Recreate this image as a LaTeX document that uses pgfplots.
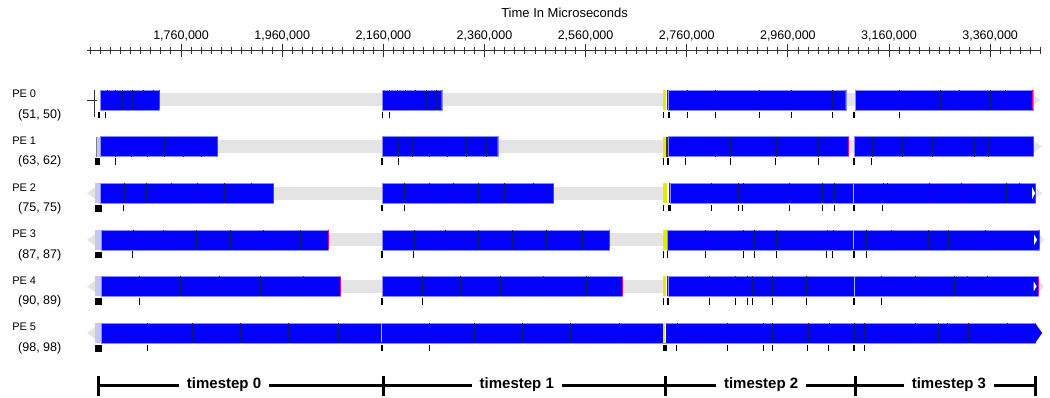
\documentclass[border=0pt]{standalone}
\usepackage{pgfplots}
\pgfplotsset{compat=1.18}
\usepackage{fontspec}
\setmainfont{Liberation Sans}
\definecolor{barblue}{RGB}{2,2,252}
\definecolor{baredge}{RGB}{140,140,255}
\definecolor{evline}{RGB}{20,20,110}
\definecolor{idlegray}{RGB}{228,228,228}
\definecolor{idlelight}{RGB}{246,246,246}
\definecolor{lav}{RGB}{198,198,245}
\definecolor{ylw}{RGB}{225,238,0}
\definecolor{axgray}{RGB}{50,50,50}
\definecolor{lightln}{RGB}{175,175,255}
\definecolor{olive}{RGB}{60,60,0}
\newcommand{\Blk}[4]{\addplot[fill=barblue, draw=baredge, line width=0.5pt] coordinates {(#1,#3) (#2,#3) (#2,#4) (#1,#4)} -- cycle;}
\newcommand{\Idle}[4]{\addplot[draw=none, left color=idlegray, middle color=idlelight, right color=idlegray] coordinates {(#1,#3) (#2,#3) (#2,#4) (#1,#4)} -- cycle;}
\newcommand{\Lav}[4]{\addplot[fill=lav, draw=none] coordinates {(#1,#3) (#2,#3) (#2,#4) (#1,#4)} -- cycle;}
\newcommand{\Ylw}[4]{\addplot[fill=ylw, draw=none] coordinates {(#1,#3) (#2,#3) (#2,#4) (#1,#4)} -- cycle;}
% triangle: base x, tip x, top y, mid y, bottom y, colour
\newcommand{\Tri}[6]{\addplot[fill=#6, draw=none] coordinates {(#1,#3) (#2,#4) (#1,#5)} -- cycle;}
\pgfplotsset{
  evl/.style={only marks, mark=|, mark size=10pt, mark options={draw=evline, line width=0.6pt}},
  dkl/.style={only marks, mark=|, mark size=10pt, mark options={draw=olive, line width=1.3pt}},
  lgl/.style={only marks, mark=|, mark size=9.5pt, mark options={draw=lightln, line width=1pt}},
  wtl/.style={only marks, mark=|, mark size=9pt, mark options={draw=white, line width=0.8pt}},
  mgl/.style={only marks, mark=|, mark size=9.5pt, mark options={draw=magenta, line width=0.9pt}},
  tk/.style={only marks, mark=|, mark size=3.3pt, mark options={draw=black, line width=0.8pt}},
  tkb/.style={only marks, mark=|, mark size=3.3pt, mark options={draw=black, line width=2.2pt}},
  sq/.style={only marks, mark=square*, mark size=2.8pt, mark options={fill=black, draw=black}},
}
\begin{document}
\begin{tikzpicture}
\begin{axis}[name=ax, scale only axis, width=953.7pt, height=345.3pt,
  xmin=1574000, xmax=3460000, ymin=-396, ymax=-50.7,
  axis x line*=top, axis y line=none,
  scaled x ticks=false,
  xtick={1760000,1960000,2160000,2360000,2560000,2760000,2960000,3160000,3360000},
  xticklabels={{1,760,000},{1,960,000},{2,160,000},{2,360,000},{2,560,000},{2,760,000},{2,960,000},{3,160,000},{3,360,000}},
  minor xtick={1580000,1600000,...,3460000},
  tick align=center, major tick length=13pt, minor tick length=6.5pt,
  every tick/.style={axgray, line width=0.9pt},
  axis line style={axgray, line width=0.9pt},
  xticklabel style={font=\fontsize{12.5}{14}\selectfont, text=black},
  clip=false]

% ---------------- PE 0 ----------------
\Idle{1717100}{2158100}{-94}{-106}
\Idle{2275600}{2713300}{-94}{-106}
\Idle{3074600}{3093000}{-94}{-106}
\Tri{3444400}{3458900}{-94}{-100}{-106}{idlegray}
\Blk{1599800}{1717100}{-90}{-110}
\Blk{2158100}{2275600}{-90}{-110}
\Blk{2724200}{3074600}{-90}{-110}
\Blk{3093000}{3444400}{-90}{-110}
\Ylw{2713300}{2719200}{-90}{-110}
\addplot[axgray, line width=0.8pt] coordinates {(1574100,-100) (1593900,-100)};
\addplot[axgray, line width=0.8pt] coordinates {(1588000,-90) (1588000,-117)};
\addplot[dkl] coordinates {(2722200,-100)};
\addplot[evl] coordinates {(1615000,-100) (1629500,-100) (1644700,-100) (1664500,-100) (1685400,-100) (1705200,-100)
  (2172000,-100) (2187800,-100) (2203000,-100) (2222800,-100) (2244500,-100) (2265700,-100)
  (2760700,-100) (2816100,-100) (2903100,-100) (2966400,-100) (3048100,-100)
  (3180000,-100) (3261100,-100) (3299300,-100) (3360000,-100) (3389700,-100)};
\addplot[mgl] coordinates {(1717100,-100) (2275600,-100) (3074600,-100) (3444400,-100)};
\addplot[tk] coordinates {(1609700,-115) (2158100,-115) (2172000,-115) (2713300,-115) (2760700,-115) (2816100,-115) (2903100,-115) (2966400,-115) (3048100,-115) (3180000,-115)};
\addplot[tkb] coordinates {(1597400,-115) (2725200,-115) (3091000,-115)};

% ---------------- PE 1 ----------------
\Idle{1831200}{2158100}{-140.6}{-152.6}
\Idle{2386400}{2713900}{-140.6}{-152.6}
\Idle{3079200}{3092000}{-140.6}{-152.6}
\Tri{3445600}{3462800}{-140.6}{-146.6}{-152.6}{idlegray}
\Lav{1593900}{1599800}{-136.6}{-156.6}
\Blk{1599800}{1831200}{-136.6}{-156.6}
\Blk{2158100}{2386400}{-136.6}{-156.6}
\Blk{2723200}{3079200}{-136.6}{-156.6}
\Blk{3092000}{3445600}{-136.6}{-156.6}
\Ylw{2713900}{2720600}{-136.6}{-156.6}
\addplot[only marks, mark=|, mark size=10pt, mark options={draw=gray, line width=1pt}] coordinates {(1592900,-146.6)};
\addplot[dkl] coordinates {(2721200,-146.6)};
\addplot[evl] coordinates {(1629500,-146.6) (1661100,-146.6) (1693400,-146.6) (1727000,-146.6) (1764500,-146.6) (1800900,-146.6)
  (2189800,-146.6) (2218200,-146.6) (2250500,-146.6) (2286700,-146.6) (2323700,-146.6) (2363200,-146.6)
  (2756800,-146.6) (2816100,-146.6) (2845800,-146.6) (2936200,-146.6) (3020400,-146.6)
  (3126000,-146.6) (3185400,-146.6) (3244700,-146.6) (3328900,-146.6) (3356600,-146.6)};
\addplot[mgl] coordinates {(1831200,-146.6) (2386400,-146.6) (3079200,-146.6) (3445600,-146.6)};
\addplot[tk] coordinates {(1630900,-161.6) (2189800,-161.6) (2713300,-161.6) (2756800,-161.6) (2845800,-161.6) (2936200,-161.6) (3020400,-161.6) (3126000,-161.6)};
\addplot[tkb] coordinates {(1592900,-161.6) (1597800,-161.6) (2158100,-161.6) (2722600,-161.6) (3091000,-161.6)};

% ---------------- PE 2 ----------------
\Tri{1589900}{1574100}{-187.2}{-193.2}{-199.2}{idlegray}
\Idle{1942500}{2158100}{-187.2}{-199.2}
\Idle{2496300}{2713900}{-187.2}{-199.2}
\Tri{3449000}{3462800}{-187.2}{-193.2}{-199.2}{idlegray}
\Lav{1589900}{1599800}{-183.2}{-203.2}
\Blk{1599800}{1942500}{-183.2}{-203.2}
\Blk{2158100}{2496300}{-183.2}{-203.2}
\Blk{2727100}{3449000}{-183.2}{-203.2}
\Ylw{2713900}{2721200}{-183.2}{-203.2}
\Tri{3443000}{3449000}{-187.2}{-193.2}{-199.2}{white}
\addplot[dkl] coordinates {(2726100,-193.2)};
\addplot[lgl] coordinates {(3089600,-193.2)};
\addplot[evl] coordinates {(1647300,-193.2) (1692200,-193.2) (1741600,-193.2) (1792200,-193.2) (1845000,-193.2) (1899800,-193.2)
  (2201000,-193.2) (2250500,-193.2) (2297400,-193.2) (2348000,-193.2) (2399400,-193.2) (2455600,-193.2)
  (2808200,-193.2) (2862200,-193.2) (2870900,-193.2) (2962500,-193.2) (3028300,-193.2) (3052100,-193.2)
  (3147800,-193.2) (3155700,-193.2) (3239400,-193.2) (3302600,-193.2) (3391600,-193.2) (3417900,-193.2)};
\addplot[mgl] coordinates {(1942500,-193.2) (2496300,-193.2) (3449000,-193.2)};
\addplot[sq] coordinates {(1595800,-208.2)};
\addplot[tk] coordinates {(1646700,-208.2) (2202400,-208.2) (2713900,-208.2) (2808200,-208.2) (2862200,-208.2) (2870900,-208.2) (2962500,-208.2) (3028300,-208.2) (3052100,-208.2) (3146400,-208.2)};
\addplot[tkb] coordinates {(2158100,-208.2) (2726100,-208.2) (3091000,-208.2)};

% ---------------- PE 3 ----------------
\Tri{1589900}{1574100}{-233.8}{-239.8}{-245.8}{idlegray}
\Idle{2051300}{2158100}{-233.8}{-245.8}
\Idle{2607100}{2713300}{-233.8}{-245.8}
\Tri{3456900}{3466800}{-233.8}{-239.8}{-245.8}{idlegray}
\Lav{1589900}{1601800}{-229.8}{-249.8}
\Blk{1601800}{2051300}{-229.8}{-249.8}
\Blk{2158100}{2607100}{-229.8}{-249.8}
\Blk{2721200}{3456900}{-229.8}{-249.8}
\Ylw{2713300}{2721200}{-229.8}{-249.8}
\Tri{3447000}{3453000}{-234.8}{-239.8}{-244.8}{white}
\addplot[lgl] coordinates {(3089600,-239.8)};
\addplot[evl] coordinates {(1665700,-239.8) (1725000,-239.8) (1789700,-239.8) (1856900,-239.8) (1922800,-239.8) (1995400,-239.8)
  (2220800,-239.8) (2282100,-239.8) (2348000,-239.8) (2415200,-239.8) (2481900,-239.8) (2553700,-239.8)
  (2796300,-239.8) (2872100,-239.8) (2893300,-239.8) (2938100,-239.8) (3037000,-239.8) (3048900,-239.8)
  (3114800,-239.8) (3163600,-239.8) (3236800,-239.8) (3277500,-239.8) (3350100,-239.8)};
\addplot[mgl] coordinates {(2051300,-239.8) (2607100,-239.8) (3456900,-239.8)};
\addplot[sq] coordinates {(1595800,-254.8)};
\addplot[tk] coordinates {(1664500,-254.8) (2220200,-254.8) (2713300,-254.8) (2721200,-254.8) (2796300,-254.8) (2872100,-254.8) (2893300,-254.8) (2938100,-254.8) (3037000,-254.8) (3048900,-254.8) (3114800,-254.8)};
\addplot[tkb] coordinates {(2158100,-254.8) (3091000,-254.8)};

% ---------------- PE 4 ----------------
\Tri{1589900}{1574100}{-280.4}{-286.4}{-292.4}{idlegray}
\Idle{2075800}{2158100}{-280.4}{-292.4}
\Idle{2632800}{2713300}{-280.4}{-292.4}
\Tri{3455500}{3466800}{-280.4}{-286.4}{-292.4}{idlegray}
\Lav{1589900}{1601800}{-276.4}{-296.4}
\Blk{1601800}{2075800}{-276.4}{-296.4}
\Blk{2158100}{2632800}{-276.4}{-296.4}
\Blk{2723200}{3455500}{-276.4}{-296.4}
\Ylw{2713300}{2719200}{-276.4}{-296.4}
\Tri{3446000}{3452000}{-281.4}{-286.4}{-291.4}{white}
\addplot[dkl] coordinates {(2722200,-286.4)};
\addplot[lgl] coordinates {(3091000,-286.4)};
\addplot[evl] coordinates {(1677500,-286.4) (1758000,-286.4) (1835700,-286.4) (1917600,-286.4) (2001900,-286.4)
  (2237200,-286.4) (2313200,-286.4) (2392300,-286.4) (2476500,-286.4) (2561000,-286.4)
  (2804300,-286.4) (2855700,-286.4) (2880000,-286.4) (2889900,-286.4) (2929400,-286.4) (2996100,-286.4)
  (3144400,-286.4) (3211700,-286.4) (3288800,-286.4) (3313900,-286.4) (3353500,-286.4)};
\addplot[mgl] coordinates {(2075800,-286.4) (2632800,-286.4) (3455500,-286.4)};
\addplot[sq] coordinates {(1595800,-301.4)};
\addplot[tk] coordinates {(1677500,-301.4) (2237200,-301.4) (2713300,-301.4) (2804300,-301.4) (2855700,-301.4) (2880000,-301.4) (2889900,-301.4) (2929400,-301.4) (2996100,-301.4) (3144400,-301.4)};
\addplot[tkb] coordinates {(2158100,-301.4) (2723200,-301.4) (3091000,-301.4)};

% ---------------- PE 5 ----------------
\Tri{1589900}{1574100}{-327}{-333}{-339}{idlegray}
\Lav{1589900}{1601800}{-323}{-343}
\Blk{1601800}{3449000}{-323}{-343}
\Tri{3449000}{3462800}{-323}{-333}{-343}{barblue}
\Ylw{2713900}{2719800}{-323}{-343}
\addplot[wtl] coordinates {(2717200,-333)};
\addplot[lgl] coordinates {(2156900,-333)};
\addplot[evl] coordinates {(1693400,-333) (1783100,-333) (1878100,-333) (1972200,-333) (2071100,-333)
  (2250500,-333) (2340100,-333) (2435800,-333) (2530700,-333) (2626800,-333)
  (2740400,-333) (2841200,-333) (2911600,-333) (2929400,-333) (2999500,-333) (3041000,-333)
  (3091000,-333) (3111400,-333) (3211700,-333) (3257800,-333) (3274400,-333) (3317100,-333) (3393000,-333)};
\addplot[sq] coordinates {(1595800,-348)};
\addplot[tk] coordinates {(1693400,-348) (2250500,-348) (2740400,-348) (2841200,-348) (2911600,-348) (2929400,-348) (2999500,-348) (3041000,-348) (3111400,-348)};
\addplot[tkb] coordinates {(2156900,-348) (2714500,-348) (2719200,-348) (3091000,-348)};

% ---------------- timestep brackets ----------------
\addplot[black, line width=3pt] coordinates {(1595800,-386) (3449000,-386)};
\addplot[black, line width=3pt] coordinates {(1595800,-376) (1595800,-396)};
\addplot[black, line width=3pt] coordinates {(2159500,-376) (2159500,-396)};
\addplot[black, line width=3pt] coordinates {(2717200,-376) (2717200,-396)};
\addplot[black, line width=3pt] coordinates {(3093000,-376) (3093000,-396)};
\addplot[black, line width=3pt] coordinates {(3449000,-376) (3449000,-396)};
\node[fill=white, inner xsep=8pt, inner ysep=1pt, font=\bfseries\fontsize{15}{16}\selectfont] at (axis cs:1845000,-385) {timestep 0};
\node[fill=white, inner xsep=8pt, inner ysep=1pt, font=\bfseries\fontsize{15}{16}\selectfont] at (axis cs:2423900,-385) {timestep 1};
\node[fill=white, inner xsep=8pt, inner ysep=1pt, font=\bfseries\fontsize{15}{16}\selectfont] at (axis cs:2907100,-385) {timestep 2};
\node[fill=white, inner xsep=8pt, inner ysep=1pt, font=\bfseries\fontsize{15}{16}\selectfont] at (axis cs:3278500,-385) {timestep 3};

% ---------------- labels ----------------
\node[font=\fontsize{13}{14}\selectfont, inner sep=0pt] at (axis cs:2518500,-13) {Time In Microseconds};
\foreach \c/\a/\b in {100/PE 0/{(51, 50)}, 146.6/PE 1/{(63, 62)}, 193.2/PE 2/{(75, 75)}, 239.8/PE 3/{(87, 87)}, 286.4/PE 4/{(90, 89)}, 333/PE 5/{(98, 98)}}{
  \pgfmathsetmacro{\ya}{-\c+6}
  \pgfmathsetmacro{\yb}{-\c-15}
  \edef\temp{\noexpand\node[anchor=west, inner sep=0pt, font=\noexpand\fontsize{11}{12}\noexpand\selectfont] at (axis cs:1425800,\ya) {\a};
    \noexpand\node[anchor=west, inner sep=0pt, font=\noexpand\fontsize{12.5}{13}\noexpand\selectfont] at (axis cs:1437600,\yb) {\b};}
  \temp
}
\end{axis}
\path ([xshift=-87pt]ax.south west) rectangle ([xshift=9.3pt,yshift=50.7pt]ax.north east);
\end{tikzpicture}
\end{document}
